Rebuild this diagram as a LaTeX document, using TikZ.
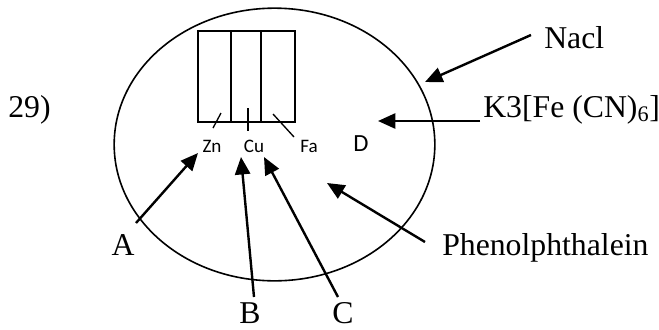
\documentclass[tikz,border=0pt]{standalone}
\usepackage{fontspec}
\setmainfont{Liberation Serif}
\newfontfamily\labelfont{Carlito}
\usepackage{tikz}
\usetikzlibrary{shapes.geometric, arrows.meta, positioning}
\tikzset{
	% serif labels round the cell
	lbl/.style      ={font=\fontsize{23.8}{26}\selectfont, inner sep=0pt},
	% small sans labels under the beakers
	elec/.style     ={font=\labelfont\fontsize{14.3}{16}\selectfont, inner sep=0pt},
	outline/.style  ={draw=black, line width=1.1pt},
	cellwall/.style ={draw=black, line width=1.2pt},
	tick/.style     ={line width=1pt},
	sig/.style      ={-{Triangle[length=4.6mm, width=4mm]}, line width=1.8pt},
}
\begin{document}
\begin{tikzpicture}[x=0.75pt, y=-0.75pt]
	\useasboundingbox (0,0) rectangle (659,329);
	\node[lbl, anchor=base west] (q) at (8,117) {29)};
	% vessel
	\node[cellwall, ellipse, minimum width=240.5pt, minimum height=204.5pt, inner sep=0pt, outer sep=0pt] (v) at (274.5,144.5) {};
	% electrodes
	\draw[outline] (198,31) rectangle (295,122);
	\draw[outline] (231,31) -- (231,122);
	\draw[outline] (261,31) -- (261,122);
	\node[elec, anchor=base] (zn) at (212,152) {Zn};
	\node[elec, anchor=base] (cu) at (254,152) {Cu};
	\node[elec, anchor=base] (fa) at (309,152) {Fa};
	\node[font=\labelfont\fontsize{18.5}{20}\selectfont, inner sep=0pt, anchor=base] (d) at (361,151) {D};
	\coordinate (zt) at (221,113); \coordinate (zb) at (213,128);
	\coordinate (ct) at (248,108); \coordinate (cb) at (248,131);
	\coordinate (ft) at (273,114); \coordinate (fb) at (294,137);
	\draw[tick] (zt) -- (zb);
	\draw[tick] (ct) -- (cb);
	\draw[tick] (ft) -- (fb);
	% labels
	\node[lbl, anchor=base west] (nacl) at (544,48) {Nacl};
	\node[lbl, anchor=base west] (k) at (483,117) {K3[Fe (CN)\textsubscript{6}]};
	\node[lbl, anchor=base west] (ph) at (442,255) {Phenolphthalein};
	\node[lbl, anchor=base] (a) at (123,255) {A};
	\node[lbl, anchor=base] (b) at (250,323) {B};
	\node[lbl, anchor=base] (c) at (343,323) {C};
	% arrows
	\coordinate (atail) at (136,223); \coordinate (atip) at (198,153);
	\coordinate (btail) at (254,297); \coordinate (btip) at (241,157);
	\coordinate (ctail) at (338,297); \coordinate (ctip) at (264,157);
	\coordinate (ptail) at (425,242); \coordinate (ptip) at (327,183);
	\coordinate (ntail) at (531,35); \coordinate (ntip) at (425,82);
	\coordinate (ktail) at (480,121); \coordinate (ktip) at (378,121);
	\draw[sig] (atail) -- (atip);
	\draw[sig] (btail) -- (btip);
	\draw[sig] (ctail) -- (ctip);
	\draw[sig] (ptail) -- (ptip);
	\draw[sig] (ntail) -- (ntip);
	\draw[sig] (ktail) -- (ktip);
\end{tikzpicture}
\end{document}
